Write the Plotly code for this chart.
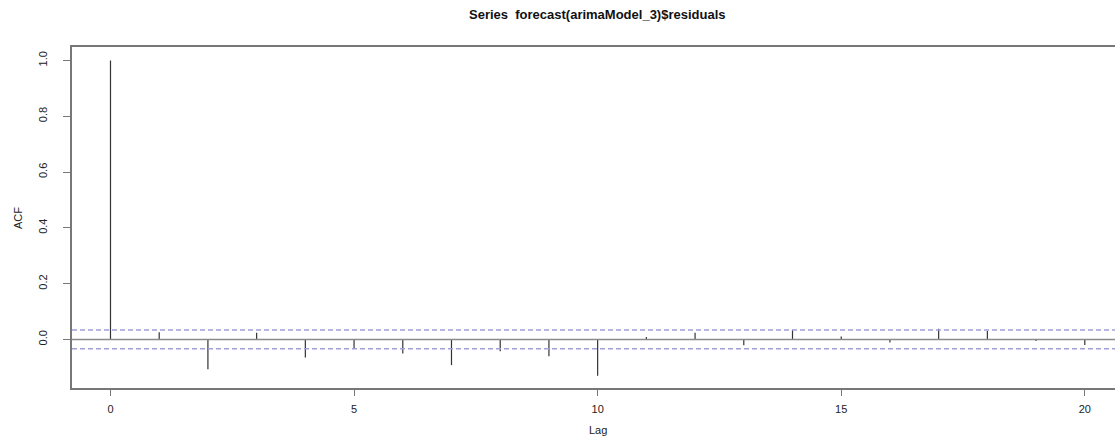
import plotly.graph_objects as go

lags = list(range(0, 21))
acf = [1.0, 0.026, -0.107, 0.024, -0.065, -0.033, -0.050, -0.092, -0.042, -0.060,
       -0.130, 0.009, 0.024, -0.021, 0.035, 0.011, -0.011, 0.038, 0.030, -0.006, -0.020]
ci = 0.0335
x_ticks = [0, 5, 10, 15, 20]
y_ticks = [0.0, 0.2, 0.4, 0.6, 0.8, 1.0]
y_labels = ["0.0", "0.2", "0.4", "0.6", "0.8", "1.0"]

# vertical stems, one segment per lag
sx, sy = [], []
for l, v in zip(lags, acf):
    sx += [l, l, None]
    sy += [0, v, None]

fig = go.Figure()
fig.add_hline(y=0, line=dict(color="#8a8a8a", width=1.5))
for c in (ci, -ci):
    fig.add_hline(y=c, line=dict(color="rgb(160,160,220)", width=1.5, dash="5px,3px"))
fig.add_trace(go.Scatter(x=sx, y=sy, mode="lines",
                         line=dict(color="#333333", width=1.2), hoverinfo="skip"))

font = dict(family="Liberation Sans, Arial, sans-serif", size=11, color="#222")
fig.update_layout(
    width=1115, height=436,
    margin=dict(l=72, r=0, t=47, b=48),
    plot_bgcolor="white", paper_bgcolor="white",
    showlegend=False, font=font,
    xaxis=dict(range=[-0.79, 20.62], tickvals=x_ticks, ticks="outside", ticklen=6,
               tickcolor="#777", showgrid=False, zeroline=False, ticklabelstandoff=4,
               showline=True, linecolor="#777", linewidth=1.5, mirror=True),
    yaxis=dict(range=[-0.174, 1.048], tickvals=y_ticks, ticktext=y_labels,
               tickangle=-90, ticks="outside", ticklen=7, tickcolor="#777",
               showgrid=False, zeroline=False, ticklabelstandoff=12,
               showline=True, linecolor="#777", linewidth=1.5),
)
fig.add_annotation(text="<b>Series  forecast(arimaModel_3)$residuals</b>",
                   xref="paper", yref="paper", x=(597 - 72) / (1115 - 72), y=1,
                   yshift=33, yanchor="middle", xanchor="center", showarrow=False,
                   font=dict(family="Liberation Sans, Arial, sans-serif", size=13, color="#111"))
fig.add_annotation(text="Lag", xref="paper", yref="paper",
                   x=(598 - 72) / (1115 - 72), y=0, yshift=-42, yanchor="middle",
                   xanchor="center", showarrow=False, font=font)
fig.add_annotation(text="ACF", xref="paper", yref="paper", x=0, xshift=-54,
                   xanchor="center", yanchor="middle",
                   y=(388 - 218) / (388 - 47), textangle=-90, showarrow=False, font=font)

# drop the default page margin so the figure sits at the window corner
fig.write_html("out.html", config={"displayModeBar": False},
               post_script="document.body.style.margin='0';")
